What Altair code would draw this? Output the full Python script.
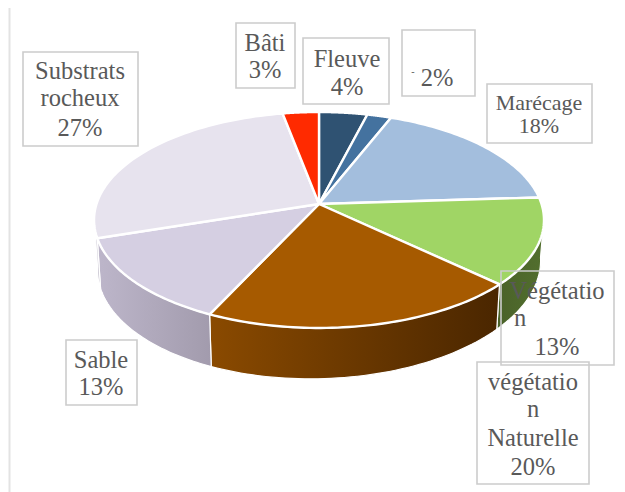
import numpy as np
import pandas as pd
import altair as alt

# --- chart values
categories = ["Fleuve", "-", "Marécage", "Végétation", "Végétation Naturelle", "Sable", "Substrats rocheux", "Bâti"]
shares = [4, 2, 18, 13, 20, 13, 27, 3]
top_colors = ["#2f5272", "#44729f", "#a3bedd", "#a0d565", "#a65a00", "#d5cfe2", "#e7e3ee", "#ff2a00"]
wall_colors = [("#2f5272", "#2f5272"), ("#44729f", "#44729f"), ("#a3bedd", "#a3bedd"),
               ("#4a6229", "#526f2e"), ("#8a4a00", "#4a2600"), ("#bdb6ca", "#a29bad"),
               ("#d2cfd9", "#c8c4d0"), ("#ff2a00", "#ff2a00")]

# --- text of the data labels: (lines, x, baselines, size)
labels = [
    (["Substrats", "rocheux", "27%"], 80, [79, 106, 136], 24.5),
    (["Bâti", "3%"], 265, [51, 78], 24.5),
    (["Fleuve", "4%"], 347, [67, 95], 24.5),
    (["2%"], 437, [86], 24.5),
    (["Marécage", "18%"], 539, [110, 133], 22),
    (["Sable", "13%"], 101, [368, 395], 24.5),
    (["Végétatio", "n", "13%"], 557, [299, 326, 355], 24.5),
    (["végétatio", "n", "Naturelle", "20%"], 533, [390, 417, 446, 475], 24.5),
]
boxes = [(23, 138, 52, 146), (236, 295, 23, 88), (303, 389, 38, 104), (402, 475, 30, 96),
         (487, 592, 84, 143), (66, 137, 340, 405), (501, 614, 271, 365), (477, 589, 362, 484)]

# --- layout of the tilted disc
W, H = 609, 484
CX, CY = 319, 204
K, C, R = 0.148, 105.6, 222.5
CYB, SX, SY = 248, 0.985, 1.055


def rim(theta_deg):
    t = np.radians(theta_deg)
    x, y = np.sin(t), np.cos(t)
    w = 1 + K * y
    return R * x / w, -C * y / w


sx = alt.Scale(domain=[8, 8 + W], nice=False, zero=False)
sy = alt.Scale(domain=[8 + H, 8], nice=False, zero=False)


def poly(xs, ys, **mark):
    df = pd.DataFrame({"x": xs, "y": ys, "i": range(len(xs))})
    return alt.Chart(df).mark_line(**mark).encode(
        x=alt.X("x:Q", scale=sx, axis=None),
        y=alt.Y("y:Q", scale=sy, axis=None),
        order=alt.Order("i:Q"),
    )


def grad(a, b):
    return alt.LinearGradient(gradient="linear", x1=0, x2=1, y1=0, y2=0,
                              stops=[alt.GradientStop(color=a, offset=0),
                                     alt.GradientStop(color=b, offset=1)])


edges = np.concatenate([[0], np.cumsum(shares)]) * 3.6
layers = []

# frame line left over from the surrounding page
layers.append(alt.Chart(pd.DataFrame({"x": [9.5], "y": [8], "y2": [8 + H]})).mark_rule(
    color="#e3e3e3", strokeWidth=2).encode(
    x=alt.X("x:Q", scale=sx, axis=None), y=alt.Y("y:Q", scale=sy, axis=None), y2="y2:Q"))

# side walls
for i in range(len(shares)):
    a, b = max(edges[i], 97), min(edges[i + 1], 263)
    if b <= a:
        continue
    th = np.linspace(a, b, 50)
    rx, ry = rim(th)
    xs = np.concatenate([CX + rx, (CX + SX * rx)[::-1], [CX + rx[0]]])
    ys = np.concatenate([CY + ry, (CYB + SY * ry - 0.02 * rx)[::-1], [CY + ry[0]]])
    layers.append(poly(xs, ys, fill=grad(*wall_colors[i]), stroke="white", strokeWidth=1.2,
                       strokeJoin="round"))

# top faces
for i in range(len(shares)):
    th = np.linspace(edges[i], edges[i + 1], 60)
    rx, ry = rim(th)
    xs = np.concatenate([[CX], CX + rx, [CX]])
    ys = np.concatenate([[CY], CY + ry, [CY]])
    layers.append(poly(xs, ys, fill=top_colors[i], stroke="white", strokeWidth=2.4, strokeJoin="round"))

# label boxes
bdf = pd.DataFrame(boxes, columns=["x", "x2", "y", "y2"])
layers.append(alt.Chart(bdf).mark_rect(fillOpacity=0, stroke="#cccccc", strokeWidth=1.6).encode(
    x=alt.X("x:Q", scale=sx, axis=None), x2="x2:Q",
    y=alt.Y("y:Q", scale=sy, axis=None), y2="y2:Q"))

# label text
rows = []
for lines, x, bases, size in labels:
    for line, b in zip(lines, bases):
        rows.append({"t": line, "x": 520 if line == "n" and x == 557 else x, "y": b, "s": size})
rows.append({"t": "-", "x": 413, "y": 75, "s": 10})
tdf = pd.DataFrame(rows)
for size, g in tdf.groupby("s"):
    layers.append(alt.Chart(g).mark_text(font="Liberation Serif", fontSize=size, color="#595959",
                                         align="center", baseline="alphabetic").encode(
        x=alt.X("x:Q", scale=sx, axis=None), y=alt.Y("y:Q", scale=sy, axis=None), text="t:N"))

chart = alt.layer(*layers).properties(
    width=W, height=H, padding=0, autosize=alt.AutoSizeParams(type="none"), background="white"
).configure_view(stroke=None)

chart.save("out.html", embed_options={"renderer": "svg", "actions": False})
